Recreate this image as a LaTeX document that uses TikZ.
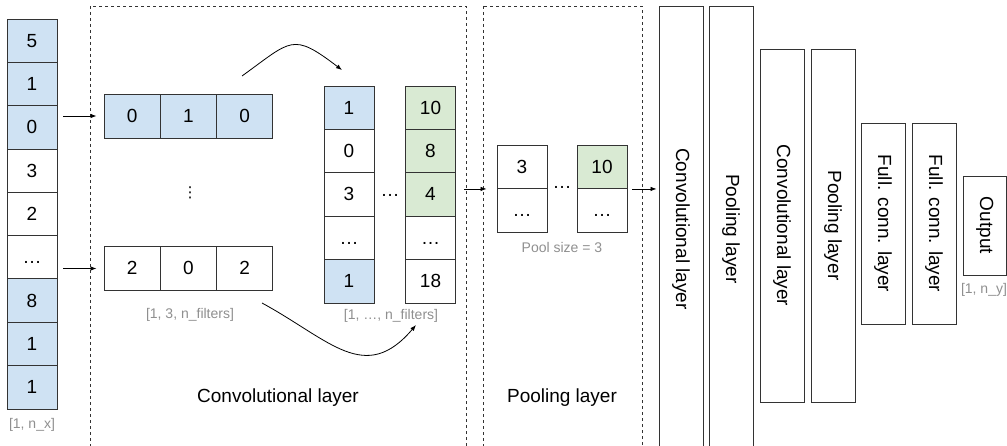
\documentclass[tikz,border=0pt]{standalone}
\usepackage{fontspec}
\setmainfont{Liberation Sans}
\newfontfamily\symfont{DejaVu Sans}
\usetikzlibrary{arrows.meta}
\definecolor{cellblue}{HTML}{CFE2F3}
\definecolor{cellgreen}{HTML}{D9EAD3}
\definecolor{notegray}{HTML}{8F8F8F}

\begin{document}
\begin{tikzpicture}[x=1pt,y=-1pt,
  cell/.style={draw=black!80,line width=0.9pt,inner sep=0pt,
    minimum width=50pt,minimum height=43.4pt,
    text height=13pt,text depth=0pt,font=\fontsize{19}{22}\selectfont},
  layer/.style={draw=black!80,line width=0.9pt,inner sep=0pt,rotate=-90,
    minimum height=44pt,font=\fontsize{19}{22}\selectfont},
  note/.style={inner sep=0pt,text=notegray,font=\fontsize{14}{16}\selectfont},
  title/.style={inner sep=0pt,font=\fontsize{19}{22}\selectfont},
  region/.style={draw=black!80,line width=0.8pt,dash pattern=on 3pt off 3pt},
  arr/.style={-{Latex[length=6pt,width=4.5pt]},line width=0.8pt}]
  \useasboundingbox (0,0) rectangle (1007,446);

  % dashed frames
  \draw[region] (90,6) rectangle (466,470);
  \draw[region] (483,6) rectangle (642,470);
  \node[title] (convtitle) at (278,398) {Convolutional layer};
  \node[title] (pooltitle) at (562,398) {Pooling layer};

  % input
  \foreach \v/\c [count=\i] in {5/cellblue,1/cellblue,0/cellblue,3/white,2/white,
      \ldots/white,8/cellblue,1/cellblue,1/cellblue}
    \node[cell,fill=\c] (in\i) at (32,{40.67+(\i-1)*43.33}) {\v};
  \node[note] (inshape) at (32,425) {[1, n\_x]};

  % filters
  \foreach \v [count=\i] in {0,1,0}
    \node[cell,fill=cellblue,minimum width=56.3pt,minimum height=44pt]
      (fa\i) at ({132.15+(\i-1)*56.3},116) {\v};
  \foreach \v [count=\i] in {2,0,2}
    \node[cell,fill=white,minimum width=56.3pt,minimum height=44pt]
      (fb\i) at ({132.15+(\i-1)*56.3},268.5) {\v};
  \node[inner sep=0pt,font=\symfont\fontsize{15}{16}\selectfont] (fdots) at (190,193) {⋮};
  \node[note] (fshape) at (190,315) {[1, 3, n\_filters]};

  % feature maps
  \foreach \v/\c [count=\i] in {1/cellblue,0/white,3/white,\ldots/white,1/cellblue}
    \node[cell,fill=\c] (ma\i) at (349,{107.7+(\i-1)*43.4}) {\v};
  \foreach \v/\c [count=\i] in {10/cellgreen,8/cellgreen,4/cellgreen,\ldots/white,18/white}
    \node[cell,fill=\c] (mb\i) at (430.5,{107.7+(\i-1)*43.4}) {\v};
  \node[title] (mdots) at (390,195) {\ldots};
  \node[note] (mshape) at (391,316) {[1, \ldots, n\_filters]};

  % pooled maps
  \foreach \v/\c [count=\i] in {3/white,\ldots/white}
    \node[cell,fill=\c,minimum height=43.5pt] (pa\i) at (522,{166.75+(\i-1)*43.5}) {\v};
  \foreach \v/\c [count=\i] in {10/cellgreen,\ldots/white}
    \node[cell,fill=\c,minimum height=43.5pt] (pb\i) at (602,{166.75+(\i-1)*43.5}) {\v};
  \node[title] (pdots) at (562,187) {\ldots};
  \node[note] (pshape) at (562,247) {Pool size = 3};

  % later layers
  \node[layer,minimum width=446pt] (conv1) at (681,229) {Convolutional layer};
  \node[layer,minimum width=446pt] (pool1) at (731,229) {Pooling layer};
  \node[layer,minimum width=353pt] (conv2) at (782,225.5) {Convolutional layer};
  \node[layer,minimum width=353pt] (pool2) at (833,225.5) {Pooling layer};
  \node[layer,minimum width=201pt] (fc1) at (883,223.5) {Full. conn. layer};
  \node[layer,minimum width=201pt] (fc2) at (934,223.5) {Full. conn. layer};
  \node[layer,minimum width=99pt,minimum height=43pt] (out) at (984.8,225.5) {Output};
  \node[note] (outshape) at (984,290) {[1, n\_y]};

  % connectors
  \draw[arr,shorten <=6pt,shorten >=7pt] (fa1.west -| in3.east) -- (fa1.west);
  \draw[arr,shorten <=6pt,shorten >=7pt] (fb1.west -| in6.east) -- (fb1.west);
  \draw[arr,shorten <=8pt,shorten >=10pt] (pa1.south west -| mb3.east) -- (pa1.south west);
  \draw[arr,shorten <=5pt,shorten >=2pt] (pb1.south east) -- (pb1.south east -| conv1.south);

  \coordinate (ka) at (242,76);
  \coordinate (kb) at (342,70);
  \draw[arr] (ka) .. controls (292,40) and (292,32) .. (kb);
  \coordinate (kc) at (262,303);
  \coordinate (kd) at (416,325);
  \draw[arr] (kc) .. controls (330,340) and (365,385) .. (kd);
\end{tikzpicture}
\end{document}
